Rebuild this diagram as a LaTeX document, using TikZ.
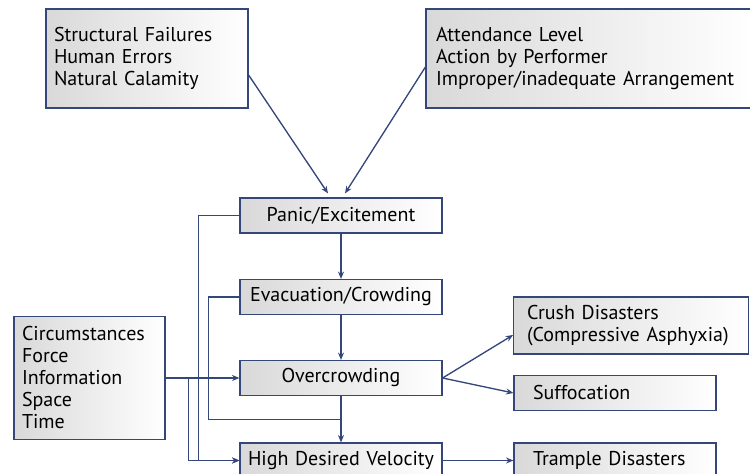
\documentclass[tikz,border=0pt]{standalone}
\usepackage{fontspec}
\setmainfont{PT Sans}
\usetikzlibrary{calc,arrows.meta}
\definecolor{navy}{RGB}{52,70,122}
\tikzset{
	box/.style={draw=navy, line width=0.9pt, left color=gray!30, right color=white, inner ysep=0pt, font=\fontsize{15}{16.5}\selectfont},
	leftbox/.style={box, align=left, inner xsep=#1},
	midbox/.style={box, align=center, inner xsep=6pt, text width=139.5pt, minimum height=26.25pt},
	line/.style={draw=navy, line width=1pt},
	arr/.style={line, -{Stealth[length=5.5pt,width=4.5pt]}}
}

\begin{document}
\begin{tikzpicture}[x=0.75pt, y=0.75pt]
		%%%%% START %%%%%
		\useasboundingbox (0, 0) rectangle (750, 474);
		
		\node[leftbox=6pt, text width=139.5pt, minimum height=74.25pt] (fail) at (147, 415.5) {Structural Failures\\Human Errors\\Natural Calamity};
		\node[leftbox=7.5pt, text width=229.5pt, minimum height=74.25pt] (attend) at (589, 415.5) {Attendance Level\\Action by Performer\\Improper/inadequate Arrangement};
		
		\node[midbox] (panic) at (341, 258.5) {Panic/Excitement};
		\node[midbox] (evac) at (341, 177) {Evacuation/Crowding};
		\node[midbox] (over) at (341, 96) {Overcrowding};
		\node[midbox] (high) at (341, 13.5) {High Desired Velocity};
		
		\node[leftbox=6pt, text width=101.25pt, minimum height=92.25pt] (circ) at (89.5, 96) {Circumstances\\Force\\Information\\Space\\Time};
		
		\node[leftbox=10pt, text width=156pt, minimum height=42.75pt] (crush) at (631, 148.5) {Crush Disasters\\(Compressive Asphyxia)};
		\node[leftbox=14.25pt, text width=123pt, minimum height=26pt] (suff) at (615, 81) {Suffocation};
		\node[leftbox=14.25pt, text width=123pt, minimum height=26.25pt] (trample) at (615, 13.5) {Trample Disasters};
		
		\draw[arr] ($(fail.east)+(0, -16.5)$) -- ($(panic.north)+(-13, 4)$);
		\draw[arr] ($(attend.west)+(0, -8.5)$) -- ($(panic.north)+(4, 4)$);
		
		\draw[arr] (panic) -- (evac);
		\draw[arr] (evac) -- (over);
		\draw[arr] (over) -- (high);
		
		\draw[line] (evac.west) -- ++(-31, 0) |- ($(over.south)!0.5!(high.north)$);
		\draw[arr] (panic.west) -- ++(-41, 0) |- (high.west);
		\draw[arr] (circ.east) -- (over.west);
		\draw[arr] ($(circ.east)+(23, 0)$) |- (high.west);
		
		\draw[arr] (over.east) -- ($(crush.west)+(0, -9.5)$);
		\draw[arr] (over.east) -- (suff.west);
		\draw[arr] (high.east) -- (trample.west);
		%%%%% END %%%%%
\end{tikzpicture}
\end{document}
